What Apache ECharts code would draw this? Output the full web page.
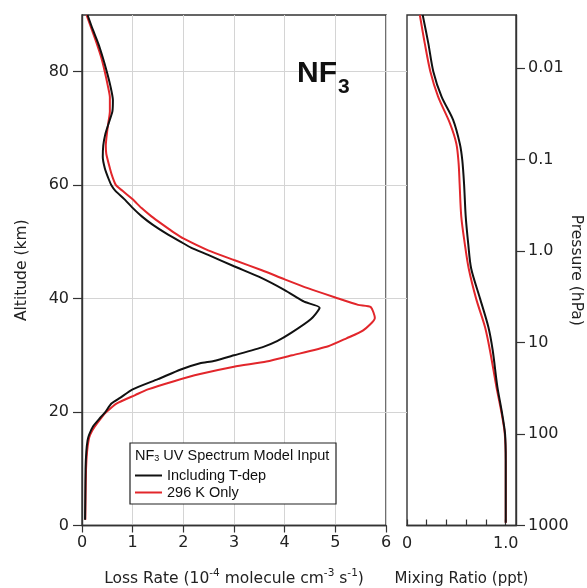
<!DOCTYPE html>
<html><head><meta charset="utf-8">
<script src="https://cdn.jsdelivr.net/npm/echarts@6/dist/echarts.min.js"></script>
<style>html,body{margin:0;padding:0;background:#fff}#c{width:587px;height:588px}</style>
</head><body><div id="c"></div>
<script>
// ---------- data ----------
const seriesNames = ['Including T-dep', '296 K Only'];

// Loss rate (1e-4 molecule cm^-3 s^-1) vs altitude (km)
const altLossBlack = [90, 87.5, 85, 82.5, 80, 77.5, 75, 73, 71, 69, 67, 65, 63, 61, 60, 59, 57.5, 56, 54.5, 53, 51.5, 50, 49, 47.7, 45.7, 43.6, 41.5, 40, 39.4, 38.4, 36.4, 33.9, 32.5, 31.5, 30, 29, 28.6, 27.5, 25.8, 24, 22.5, 21.5, 20, 19, 17.5, 16, 15, 13, 10, 5, 1];
const lossBlack = [0.11, 0.21, 0.32, 0.41, 0.49, 0.56, 0.61, 0.60, 0.53, 0.46, 0.42, 0.41, 0.45, 0.53, 0.58, 0.66, 0.84, 1.0, 1.18, 1.40, 1.66, 1.95, 2.15, 2.49, 3.0, 3.55, 4.0, 4.28, 4.40, 4.69, 4.52, 4.12, 3.85, 3.58, 3.0, 2.6, 2.33, 1.95, 1.50, 1.0, 0.75, 0.58, 0.46, 0.36, 0.22, 0.14, 0.11, 0.085, 0.07, 0.065, 0.06];

const altLossRed = [90, 87.5, 85, 82.5, 80, 77.5, 75.5, 73, 71, 69, 67, 65.5, 63, 61.5, 60, 59, 57.5, 56, 54.5, 53, 51.5, 50.6, 48.5, 46.8, 45, 43.4, 41.8, 40.2, 38.9, 38.5, 36.6, 34.4, 33, 31.6, 30, 28.9, 28, 26.7, 25.4, 24, 23, 21.5, 20, 19.2, 17.4, 16, 15, 13, 10, 5, 1];
const lossRed = [0.09, 0.19, 0.29, 0.38, 0.45, 0.51, 0.55, 0.55, 0.52, 0.49, 0.47, 0.48, 0.55, 0.60, 0.67, 0.80, 1.0, 1.17, 1.37, 1.60, 1.84, 2.0, 2.49, 3.0, 3.55, 4.0, 4.47, 5.0, 5.45, 5.70, 5.78, 5.55, 5.22, 4.86, 4.15, 3.64, 3.0, 2.33, 1.8, 1.30, 1.05, 0.68, 0.48, 0.40, 0.25, 0.16, 0.13, 0.10, 0.08, 0.07, 0.065];

// Mixing ratio (ppt) vs altitude (km)
const altMixBlack = [90, 85, 80, 75.6, 71.5, 67.3, 64.4, 60.2, 54.4, 49.7, 45.3, 40, 35, 30.9, 24.5, 20.1, 16.2, 11.5, 5, 0.5];
const mixBlack = [0.159, 0.216, 0.267, 0.35, 0.467, 0.535, 0.56, 0.578, 0.595, 0.62, 0.65, 0.74, 0.824, 0.868, 0.915, 0.96, 0.993, 1.0, 1.0, 1.0];
const altMixRed = [90, 85, 80, 75.6, 70.9, 67.3, 63.8, 60.2, 54.4, 49.7, 45.3, 40, 35, 30.9, 24.5, 20.1, 16.2, 11.5, 5, 0.5];
const mixRed = [0.13, 0.18, 0.237, 0.315, 0.435, 0.50, 0.523, 0.533, 0.55, 0.585, 0.625, 0.70, 0.79, 0.84, 0.905, 0.955, 0.99, 1.0, 1.0, 1.0];

// tick labels
const altTicks = [0, 20, 40, 60, 80];
const lossTicks = [0, 1, 2, 3, 4, 5, 6];
const mixTicks = [0, 0.2, 0.4, 0.6, 0.8, 1.0];
const mixLabels = [0, 1.0];
const pressureTicks = [0.01, 0.1, 1, 10, 100, 1000];
const pressureLabels = ['0.01', '0.1', '1.0', '10', '100', '1000'];

// ---------- chart ----------
const pairs = (xs, ys) => xs.map((x, i) => [x, ys[i]]);
const AXC = '#333';
const FONT = 'DejaVu Sans';
const LFONT = 'Liberation Sans';
const chart = echarts.init(document.getElementById('c'), null, {renderer: 'canvas'});

const frame = {show: true, borderColor: AXC, borderWidth: 1.4, backgroundColor: 'transparent',
  containLabel: false, outerBoundsMode: 'none'};

chart.setOption({
  animation: false,
  backgroundColor: '#fff',
  grid: [
    Object.assign({left: 82, right: 201, top: 15, bottom: 62.5}, frame),
    Object.assign({left: 407, right: 71, top: 15, bottom: 62.5}, frame),
    {left: 386, right: 180, top: 71.5, bottom: 176, show: false, outerBoundsMode: 'none'}
  ],
  xAxis: [
    {
      gridIndex: 0, type: 'value', min: 0, max: 6, interval: 1,
      name: 'Loss Rate (10{sup|-4} molecule cm{sup|-3} s{sup|-1})',
      nameLocation: 'middle', nameGap: 42, nameMoveOverlap: false,
      nameTextStyle: {
        fontFamily: FONT, fontSize: 15.5, color: '#222', lineHeight: 22,
        rich: {sup: {fontFamily: FONT, fontSize: 10.5, color: '#222', verticalAlign: 'top', lineHeight: 10}}
      },
      axisLine: {show: true, lineStyle: {color: AXC, width: 1.4}},
      axisTick: {show: true, inside: false, length: 7, lineStyle: {color: AXC, width: 1.2}},
      axisLabel: {fontFamily: FONT, fontSize: 16, color: '#222', margin: 9,
        customValues: lossTicks},
      splitLine: {show: true, lineStyle: {color: '#d4d4d4', width: 1}}
    },
    {
      gridIndex: 1, type: 'value', min: 0, max: 1.104,
      name: 'Mixing Ratio (ppt)',
      nameLocation: 'middle', nameGap: 46, nameMoveOverlap: false,
      nameTextStyle: {fontFamily: FONT, fontSize: 15, color: '#222'},
      axisLine: {show: true, lineStyle: {color: AXC, width: 1.4}},
      axisTick: {show: true, inside: true, length: 6, customValues: mixTicks, lineStyle: {color: AXC, width: 1.2}},
      axisLabel: {fontFamily: FONT, fontSize: 16, color: '#222', margin: 10,
        customValues: mixLabels,
        formatter: v => (v < 0.5 ? '0' : '1.0')},
      splitLine: {show: false}
    },
    {gridIndex: 2, type: 'value', min: 0, max: 1, show: false}
  ],
  yAxis: [
    {
      gridIndex: 0, type: 'value', min: 0, max: 90,
      name: 'Altitude (km)', nameLocation: 'middle', nameGap: 52, nameMoveOverlap: false,
      nameTextStyle: {fontFamily: FONT, fontSize: 15.5, color: '#222'},
      axisLine: {show: true, lineStyle: {color: AXC, width: 1.4}},
      axisTick: {show: true, length: 9, customValues: altTicks, lineStyle: {color: AXC, width: 1.2}},
      axisLabel: {fontFamily: FONT, fontSize: 16, color: '#222', margin: 13, customValues: altTicks},
      splitLine: {show: true, lineStyle: {color: '#d4d4d4', width: 1}},
      interval: 20
    },
    {
      gridIndex: 1, type: 'value', min: 0, max: 90, show: false
    },
    {
      gridIndex: 1, type: 'log', position: 'right', inverse: true,
      min: 0.00262, max: 1000,
      name: 'Pressure (hPa)', nameLocation: 'middle', nameGap: 52, nameRotate: -90, nameMoveOverlap: false,
      nameTextStyle: {fontFamily: FONT, fontSize: 15.5, color: '#222'},
      axisLine: {show: true, lineStyle: {color: AXC, width: 1.4}},
      axisTick: {show: true, length: 9, customValues: pressureTicks, lineStyle: {color: AXC, width: 1.2}},
      axisLabel: {fontFamily: FONT, fontSize: 16, color: '#222', margin: 12, customValues: pressureTicks,
        formatter: v => {
          let best = 0;
          pressureTicks.forEach((p, i) => { if (Math.abs(Math.log10(p) - Math.log10(v)) < Math.abs(Math.log10(pressureTicks[best]) - Math.log10(v))) best = i; });
          return pressureLabels[best];
        }},
      splitLine: {show: false}
    },
    {
      gridIndex: 2, type: 'value', min: 20, max: 80, interval: 20,
      axisLine: {show: false}, axisTick: {show: false}, axisLabel: {show: false},
      splitLine: {show: true, lineStyle: {color: '#d4d4d4', width: 1}}
    }
  ],
  legend: {
    data: seriesNames, orient: 'vertical', left: 135, top: 467, z: 20,
    itemWidth: 27, itemHeight: 2, itemGap: 0, padding: 0,
    icon: 'rect',
    textStyle: {fontFamily: LFONT, fontSize: 14.5, color: '#111', lineHeight: 17},
    selectedMode: false
  },
  graphic: [
    {type: 'rect', z: 15, shape: {x: 130, y: 443, width: 206, height: 61},
     style: {fill: '#fff', stroke: '#222', lineWidth: 1.2}},
    {type: 'text', z: 16, x: 135, y: 456,
     style: {text: 'NF{s|3} UV Spectrum Model Input', fontFamily: LFONT, fontSize: 14.5, fill: '#111',
       verticalAlign: 'middle',
       rich: {s: {fontFamily: LFONT, fontSize: 9, fill: '#111', verticalAlign: 'bottom', padding: [6, 0, 0, 0]}}}},
    {type: 'text', z: 16, x: 297, y: 74,
     style: {text: 'NF', fontFamily: LFONT, fontWeight: 'bold', fontSize: 30, fill: '#111', verticalAlign: 'middle'}},
    {type: 'text', z: 16, x: 338, y: 87,
     style: {text: '3', fontFamily: LFONT, fontWeight: 'bold', fontSize: 21, fill: '#111', verticalAlign: 'middle'}}
  ],
  series: [
    {name: seriesNames[0], type: 'line', xAxisIndex: 0, yAxisIndex: 0, z: 4,
     data: pairs(lossBlack, altLossBlack), symbol: 'none', smooth: 0.2,
     lineStyle: {color: '#111', width: 2}, itemStyle: {color: '#111'}},
    {name: seriesNames[1], type: 'line', xAxisIndex: 0, yAxisIndex: 0, z: 3,
     data: pairs(lossRed, altLossRed), symbol: 'none', smooth: 0.2,
     lineStyle: {color: '#e2262b', width: 2}, itemStyle: {color: '#e2262b'}},
    {name: seriesNames[0], type: 'line', xAxisIndex: 1, yAxisIndex: 1, z: 4,
     data: pairs(mixBlack, altMixBlack), symbol: 'none', smooth: 0.3,
     lineStyle: {color: '#111', width: 2}, itemStyle: {color: '#111'}},
    {name: seriesNames[1], type: 'line', xAxisIndex: 1, yAxisIndex: 1, z: 3,
     data: pairs(mixRed, altMixRed), symbol: 'none', smooth: 0.3,
     lineStyle: {color: '#e2262b', width: 2}, itemStyle: {color: '#e2262b'}}
  ]
});
</script>
</body></html>
